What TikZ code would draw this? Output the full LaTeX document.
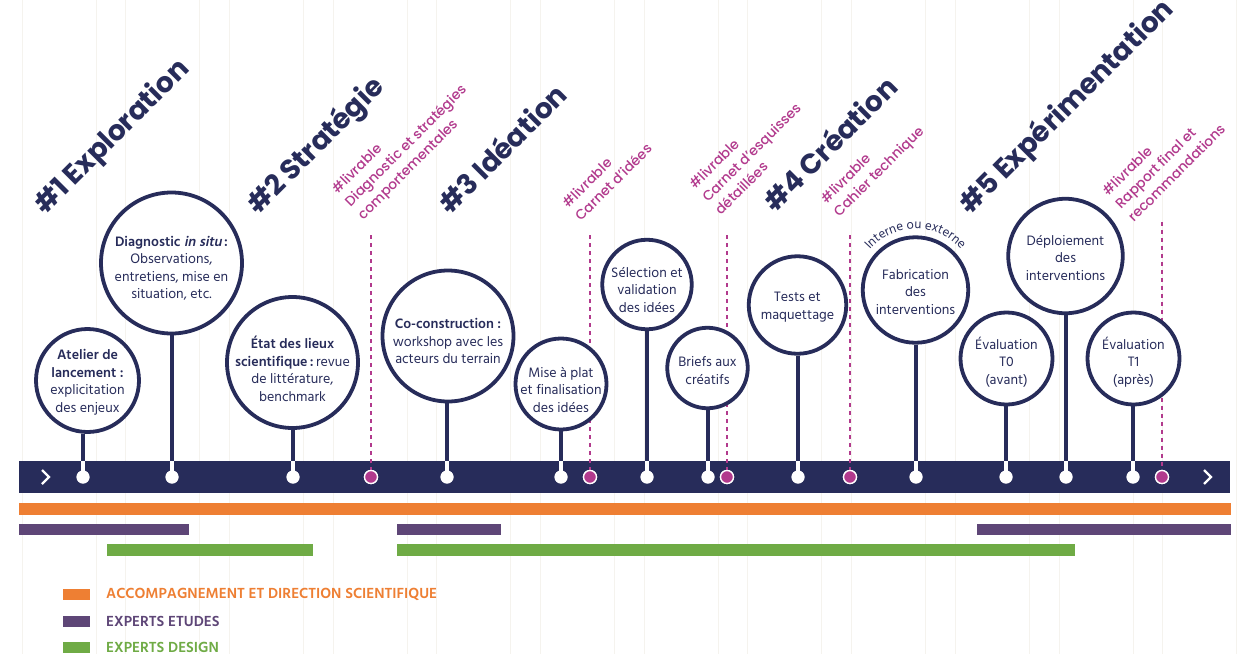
\documentclass[tikz,border=0pt]{standalone}
\usepackage{fontspec}
\usetikzlibrary{decorations.text}
\setmainfont{Hind Madurai}
\newfontfamily\pop{Poppins}
\newfontfamily\popm{Poppins}[UprightFont={* Medium}]
\newfontfamily\hindsl{Hind Madurai}[BoldFeatures={FakeSlant=0.2}]
\definecolor{navy}{HTML}{272C5A}
\definecolor{mag}{HTML}{B23A8D}
\definecolor{orng}{HTML}{EE7F33}
\definecolor{purp}{HTML}{5E4677}
\definecolor{grn}{HTML}{6FAB45}
\definecolor{gridc}{HTML}{F5F3EE}
\tikzset{
  bub/.style={circle, draw=navy, line width=3.8pt, fill=white, inner sep=0pt},
  btxt/.style={align=center, text=navy, inner sep=0pt, font=\fontsize{14}{17.5}\selectfont},
  stem/.style={draw=navy, line width=3.5pt},
  stemw/.style={draw=white, line width=3.5pt},
  wdot/.style={circle, fill=white, minimum size=13pt, inner sep=0pt},
  mdot/.style={circle, fill=mag, draw=white, line width=1.3pt, minimum size=13pt, inner sep=0pt},
  ldash/.style={draw=mag, line width=1.8pt, dash pattern=on 4pt off 4pt},
  ttl/.style={rotate=45, anchor=base west, inner sep=0pt, text=navy, font=\pop\bfseries\fontsize{28}{30}\selectfont},
  livr/.style={rotate=45, anchor=south west, align=left, inner sep=0pt, text=mag, font=\popm\fontsize{13.8}{18.2}\selectfont},
  chev/.style={draw=white, line width=2.4pt},
  leg/.style={anchor=west, inner sep=0pt, font=\bfseries\fontsize{15}{15}\selectfont},
}
\begin{document}
\begin{tikzpicture}[x=1pt,y=1pt]
\fill[white] (0,0) rectangle (1248,-654);
\path[use as bounding box] (0,0) rectangle (1248,-654);
% faint grid
\foreach \k in {0,...,11} {
  \draw[gridc, line width=1pt] (22+103.7*\k,0) -- ++(0,-654);
  \draw[gridc, line width=1pt] (96+103.7*\k,0) -- ++(0,-654);
}
% timeline bar
\fill[navy] (19,-461) rectangle (1230,-493);
\draw[chev] (42,-470) -- (49,-477) -- (42,-484);
\draw[chev] (1204,-470) -- (1211,-477) -- (1204,-484);
\coordinate (bartop) at (0,-461);
% team bars
\fill[orng] (19,-503) rectangle (1231,-515);
\fill[purp] (19,-524) rectangle (189,-535);
\fill[purp] (397,-524) rectangle (501,-535);
\fill[purp] (977,-524) rectangle (1231,-535);
\fill[grn] (107,-544) rectangle (313,-556);
\fill[grn] (397,-544) rectangle (1075,-556);
% legend
\fill[orng] (63,-589) rectangle (90,-600);
\fill[purp] (63,-616) rectangle (90,-627);
\fill[grn] (63,-642) rectangle (90,-653);
\node[leg, text=orng] (l1) at (106,-594.5) {ACCOMPAGNEMENT ET DIRECTION SCIENTIFIQUE};
\node[leg, text=purp] (l2) at (106,-621.5) {EXPERTS ETUDES};
\node[leg, text=grn] (l3) at (106,-647.5) {EXPERTS DESIGN};
% livrable dashed lines
\foreach \i/\x/\y in {1/371/235, 2/590/235, 3/727/235, 4/850/235, 5/1162/222} {
  \coordinate (lt\i) at (\x,-\y);
  \node[mdot] (m\i) at (\x,-477) {};
}
\foreach \i in {1,...,5} {
  \draw[ldash] (lt\i) -- (m\i.center);
  \node[mdot] at (m\i) {};
}
% white dots
\foreach \i/\x in {1/83, 2/172, 3/293, 4/447, 5/561, 6/647, 7/708, 8/798, 9/916, 10/1066, 11/1006, 12/1133} {
  \node[wdot] (d\i) at (\x,-477) {};
}
% circles
\node[bub, minimum size=103pt] (c1) at (87.5,-380.5) {};
\node[bub, minimum size=141pt] (c2) at (171.5,-263) {};
\node[bub, minimum size=131pt] (c3) at (292.5,-362.5) {};
\node[bub, minimum size=131pt] (c4) at (448,-336) {};
\node[bub, minimum size=91pt] (c5) at (561,-384) {};
\node[bub, minimum size=89.5pt] (c6) at (647,-284.5) {};
\node[bub, minimum size=80.5pt] (c7) at (707.5,-368) {};
\node[bub, minimum size=97.5pt] (c8) at (797.5,-305) {};
\node[bub, minimum size=105.5pt] (c9) at (915.5,-290) {};
\node[bub, minimum size=114.5pt] (c10) at (1065.5,-256) {};
\node[bub, minimum size=92pt] (c11) at (1006.5,-358.5) {};
\node[bub, minimum size=92pt] (c12) at (1133.5,-358.5) {};
% stems
\foreach \i in {1,...,12} {
  \draw[stem] (c\i.south -| d\i) -- (d\i |- bartop);
  \draw[stemw] (d\i |- bartop) -- (d\i.center);
  \node[wdot] at (d\i) {};
}
% circle texts
\node[btxt] (x1) at (87.5,-382) {\textbf{Atelier de}\\\textbf{lancement :}\\explicitation\\des enjeux};
\node[btxt] (x2) at (171.5,-268) {\textbf{Diagnostic {\hindsl in situ}\,:}\\Observations,\\entretiens, mise en\\situation, etc.};
\node[btxt] (x3) at (292.5,-369) {\textbf{État des lieux}\\\textbf{scientifique\,:}\,revue\\de littérature,\\benchmark};
\node[btxt] (x4) at (448,-341) {\textbf{Co-construction :}\\workshop avec les\\acteurs du terrain};
\node[btxt] (x5) at (561,-390) {Mise à plat\\et finalisation\\des idées};
\node[btxt] (x6) at (647,-290) {Sélection et\\validation\\des idées};
\node[btxt] (x7) at (707.5,-370.5) {Briefs aux\\créatifs};
\node[btxt] (x8) at (797.5,-307) {Tests et\\maquettage};
\node[btxt] (x9) at (915.5,-292) {Fabrication\\des\\interventions};
\node[btxt] (x10) at (1065.5,-258) {Déploiement\\des\\interventions};
\node[btxt] (x11) at (1006.5,-362) {Évaluation\\T0\\(avant)};
\node[btxt] (x12) at (1133.5,-362) {Évaluation\\T1\\(après)};
% curved label
\path[decorate, decoration={text along path, text align=center,
  text={|\color{navy}\fontsize{13}{13}\selectfont|Interne ou externe}}]
  (c9.center) ++(150:61) arc[start angle=150, end angle=30, radius=61];
% phase titles
\node[ttl] (t1) at (45,-216) {\#1 Exploration};
\node[ttl] (t2) at (258,-216) {\#2 Stratégie};
\node[ttl] (t3) at (450,-216) {\#3 Idéation};
\node[ttl] (t4) at (775,-214) {\#4 Création};
\node[ttl] (t5) at (970,-216) {\#5 Expérimentation};
% livrables
\node[livr] (v1) at (366,-223) {\#livrable\\Diagnostic et stratégies\\comportementales};
\node[livr] (v2) at (581,-222) {\#livrable\\Carnet d’idées};
\node[livr] (v3) at (721,-216) {\#livrable\\Carnet d’esquisses\\détaillées};
\node[livr] (v4) at (842,-220) {\#livrable\\Cahier technique};
\node[livr] (v5) at (1134,-223) {\#livrable\\Rapport final et\\recommandations};
\end{tikzpicture}
\end{document}
